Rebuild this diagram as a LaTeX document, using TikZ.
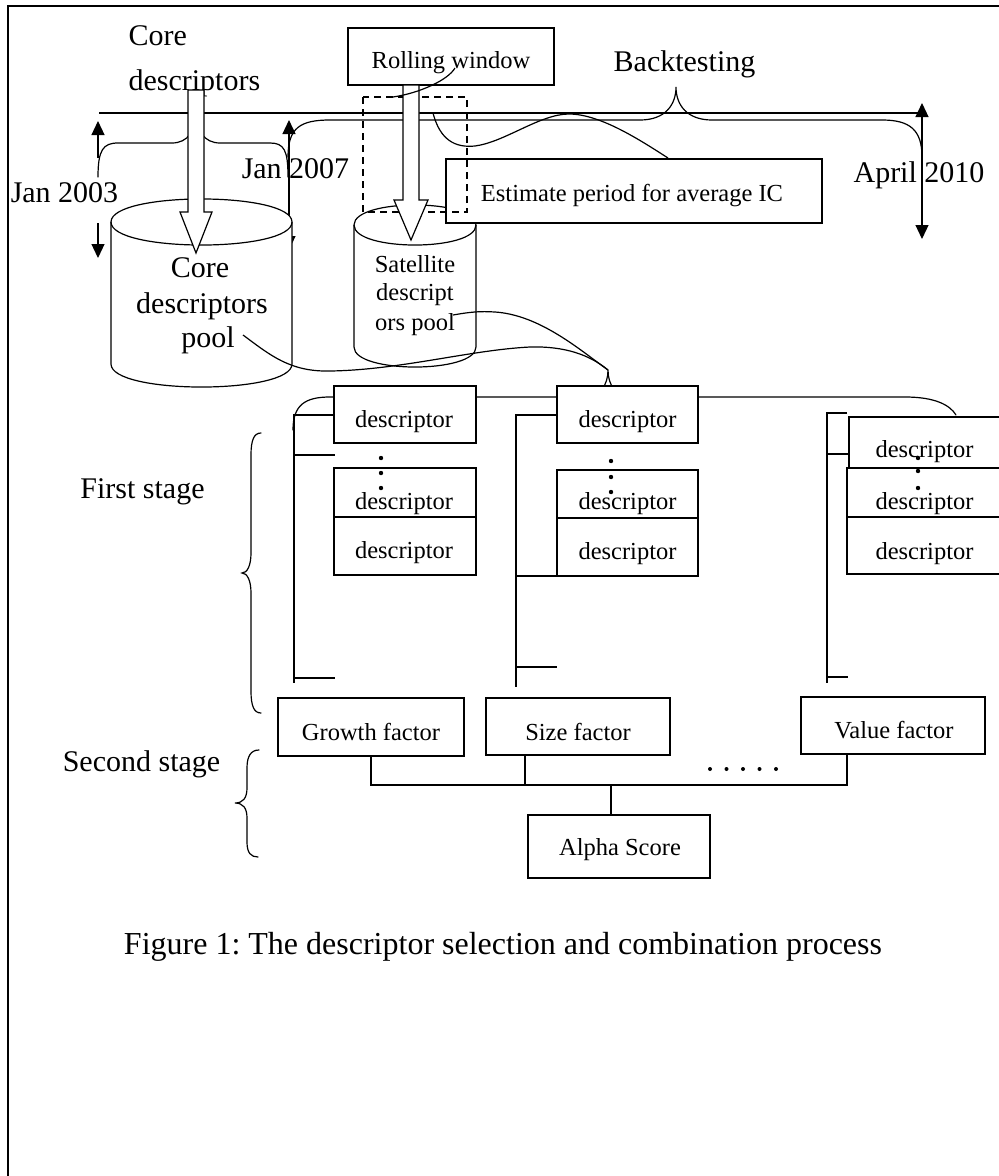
\documentclass[tikz,border=0pt]{standalone}
\usepackage{fontspec}
\setmainfont{Liberation Serif}
\usetikzlibrary{arrows.meta}
\frenchspacing

\begin{document}
\begin{tikzpicture}[x=1pt, y=-1pt, line width=1.2pt,
  >={Triangle[width=13pt,length=14pt]},
  lbl/.style={font=\fontsize{30}{36}\selectfont, inner sep=0pt, anchor=base},
  btxt/.style={font=\fontsize{24.5}{29}\selectfont, inner sep=0pt, anchor=base},
  box/.style={draw, fill=white, rectangle, inner sep=0pt},
  hollow/.style={draw, fill=white, line join=miter},
  curly/.style={line cap=round},
  dot/.style={fill=black}]

\useasboundingbox (0,0) rectangle (999,1176);

% frame
\draw[line width=1.5pt] (8,1176) -- (8,6) -- (999,6);

% time axis and period braces
\coordinate (axisL) at (99,113);
\coordinate (axisR) at (922,113);
\draw (axisL) -- (axisR);

\draw[curly] (98,177) .. controls (98,150) and (103,143) .. (118,143) -- (172,143)
  .. controls (188,143) and (196,130) .. (196,113)
  .. controls (196,130) and (204,143) .. (220,143) -- (270,143)
  .. controls (284,143) and (288,150) .. (288,177);

\draw[curly] (288,157) .. controls (288,128) and (300,120) .. (330,120) -- (640,120)
  .. controls (665,120) and (676,105) .. (676,87)
  .. controls (676,105) and (687,120) .. (712,120) -- (882,120)
  .. controls (910,120) and (922,130) .. (922,157);

% date markers
\coordinate (j3a) at (98,158);  \coordinate (j3b) at (98,121);
\coordinate (j3c) at (98,223);  \coordinate (j3d) at (98,258);
\draw[->] (j3a) -- (j3b);
\draw[->] (j3c) -- (j3d);
\coordinate (j7a) at (289,120); \coordinate (j7b) at (289,250);
\draw[<->] (j7a) -- (j7b);
\coordinate (a10a) at (922,103); \coordinate (a10b) at (922,239);
\draw[<->] (a10a) -- (a10b);

\node[lbl] (tJ3) at (64.5,202) {Jan 2003};
\node[lbl] (tJ7) at (295.5,178) {Jan 2007};
\node[lbl] (tA10) at (919,182) {April 2010};
\node[lbl] (tBT) at (684.5,71) {Backtesting};
\node[lbl, anchor=base west] (tCore1) at (128,45) {Core};
\node[lbl, anchor=base west] (tCore2) at (128,90) {descriptors};

% descriptor pools
\draw[fill=white] (111,222) -- (111,364) .. controls (111,394.7) and (292,394.7) .. (292,364)
  -- (292,222) .. controls (292,191.3) and (111,191.3) .. (111,222) -- cycle;
\draw (111,222) .. controls (111,252.7) and (292,252.7) .. (292,222);

\draw[fill=white] (354,225) -- (354,347) .. controls (354,373.7) and (476,373.7) .. (476,347)
  -- (476,225) .. controls (476,198.3) and (354,198.3) .. (354,225) -- cycle;
\draw (354,225) .. controls (354,251.7) and (476,251.7) .. (476,225);

% estimation period box and rolling window
\node[box, minimum width=376pt, minimum height=64pt] (est) at (634,191) {};
\node[btxt] (tEst) at (632,201) {Estimate period for average IC};

\draw[dash pattern=on 7pt off 5pt] (363,97) rectangle (467,212);

\node[box, minimum width=206pt, minimum height=57pt] (rw) at (451,56.5) {};
\node[btxt] (tRW) at (451,68) {Rolling window};

% hollow flow arrows
\draw[hollow] (188,90) -- (204,90) -- (204,212) -- (212,212) -- (196,253)
  -- (180,212) -- (188,212) -- cycle;
\draw[hollow] (403,85) -- (419,85) -- (419,200) -- (428,200) -- (411,240)
  -- (394,200) -- (403,200) -- cycle;

% pool labels
\node[lbl] (tCP1) at (200,277) {Core};
\node[lbl] (tCP2) at (202,313) {descriptors};
\node[lbl] (tCP3) at (208,347) {pool};
\node[btxt] (tSP1) at (415,272) {Satellite};
\node[btxt] (tSP2) at (415,300) {descript};
\node[btxt] (tSP3) at (415,330) {ors pool};

% callout curves
\draw (455,68) .. controls (448,80) and (420,93) .. (393,97);
\draw (433,113) .. controls (440,140) and (455,148) .. (475,146)
  .. controls (505,142) and (540,114) .. (569,114)
  .. controls (600,114) and (640,140) .. (668,158);
\draw (243,335) .. controls (270,355) and (290,372) .. (330,371)
  .. controls (400,370) and (470,350) .. (530,347)
  .. controls (565,346) and (590,355) .. (608,370);
\draw (453,315) .. controls (470,312) and (480,311) .. (495,312)
  .. controls (540,315) and (580,350) .. (608,370);

% brace over descriptor groups
\draw[curly] (293,430) .. controls (293,405) and (305,397) .. (330,397) -- (585,397)
  .. controls (600,397) and (608,385) .. (608,370)
  .. controls (608,385) and (616,397) .. (631,397) -- (905,397)
  .. controls (935,397) and (950,405) .. (956,415);

% group brackets
\draw (334,415) -- (294,415) -- (294,683);
\draw (294,455) -- (335,455);
\draw (294,678) -- (335,678);
\draw (557,415) -- (516,415) -- (516,687);
\draw (516,576) -- (557,576);
\draw (516,667) -- (557,667);
\draw (847,413) -- (827,413) -- (827,683);
\draw (827,454) -- (849,454);
\draw (827,677) -- (848,677);

% descriptor boxes
\node[box, minimum width=142pt, minimum height=57pt] (d1a) at (405,414.5) {};
\node[box, minimum width=142pt, minimum height=49pt] (d1b) at (405,492.5) {};
\node[box, minimum width=142pt, minimum height=58pt] (d1c) at (405,546) {};
\node[box, minimum width=141pt, minimum height=57pt] (d2a) at (627.5,414.5) {};
\node[box, minimum width=141pt, minimum height=48pt] (d2b) at (627.5,494) {};
\node[box, minimum width=141pt, minimum height=58pt] (d2c) at (627.5,547) {};
\node[box, minimum width=161pt, minimum height=51pt] (d3a) at (929.5,442.5) {};
\node[box, minimum width=163pt, minimum height=49pt] (d3b) at (928.5,492.5) {};
\node[box, minimum width=163pt, minimum height=57pt] (d3c) at (928.5,545.5) {};

\node[btxt] (t1a) at (404,427) {descriptor};
\node[btxt] (t1b) at (404,509) {descriptor};
\node[btxt] (t1c) at (404,558) {descriptor};
\node[btxt] (t2a) at (627.5,427) {descriptor};
\node[btxt] (t2b) at (627.5,509) {descriptor};
\node[btxt] (t2c) at (627.5,559) {descriptor};
\node[btxt] (t3a) at (924.5,457) {descriptor};
\node[btxt] (t3b) at (924.5,509) {descriptor};
\node[btxt] (t3c) at (924.5,559) {descriptor};

% vertical ellipsis dots
\foreach \yy in {458,473,488} \fill[dot] (381,\yy) circle[radius=2.2pt];
\foreach \yy in {461,477,492} \fill[dot] (611,\yy) circle[radius=2.2pt];
\foreach \yy in {458,471,488} \fill[dot] (918,\yy) circle[radius=2.2pt];

% stage braces
\draw[curly] (261,433) .. controls (254,433) and (251,440) .. (251,455) -- (251,553)
  .. controls (251,566) and (247,573) .. (242,573)
  .. controls (247,573) and (251,580) .. (251,593) -- (251,691)
  .. controls (251,706) and (254,713) .. (261,713);
\draw[curly] (259,750) .. controls (251,750) and (247,756) .. (247,768) -- (247,788)
  .. controls (247,798) and (243,803) .. (235,803)
  .. controls (243,803) and (247,808) .. (247,818) -- (247,842)
  .. controls (247,853) and (251,857) .. (258,857);
\node[lbl] (tFS) at (142.5,498) {First stage};
\node[lbl] (tSS) at (141.5,771) {Second stage};

% factor boxes and combination
\node[box, minimum width=186pt, minimum height=58pt] (growth) at (371,727) {};
\node[box, minimum width=184pt, minimum height=57pt] (size) at (578,726.5) {};
\node[box, minimum width=184pt, minimum height=57pt] (value) at (893,725.5) {};
\node[box, minimum width=182pt, minimum height=63pt] (alpha) at (619,846.5) {};
\node[btxt] (tG) at (371,740) {Growth factor};
\node[btxt] (tS) at (578,740) {Size factor};
\node[btxt] (tV) at (894,738) {Value factor};
\node[btxt] (tAl) at (620,855) {Alpha Score};

\coordinate (busL) at (371,785);
\coordinate (busR) at (847,785);
\draw (growth.south) -- (busL) -- (busR) -- (busR |- value.south);
\draw (size.south -| 525,0) -- (525,785);
\draw (611,785) -- (alpha.north -| 611,0);
\foreach \xx in {710,726.5,743,759.5,776} \fill[dot] (\xx,769) circle[radius=2pt];

% caption
\node[font=\fontsize{32}{38}\selectfont, inner sep=0pt, anchor=base] (cap) at (503,954)
  {Figure 1: The descriptor selection and combination process};
\end{tikzpicture}
\end{document}
